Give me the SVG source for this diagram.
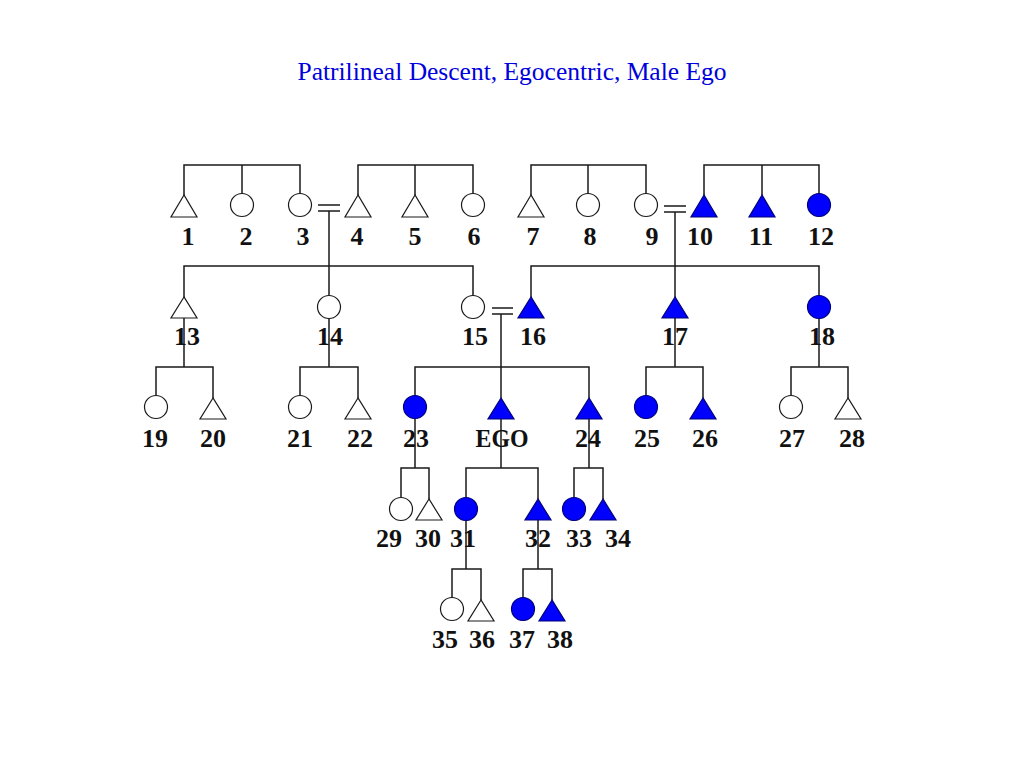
<svg xmlns="http://www.w3.org/2000/svg" width="1024" height="768" viewBox="0 0 1024 768">
<style>
.ln{stroke:#1a1a1a;stroke-width:1.5;fill:none}
.o{fill:#fff;stroke:#1a1a1a;stroke-width:1.2}
.f{fill:#0000ff;stroke:#00007a;stroke-width:1.2}
.lb{font-family:"Liberation Serif","Times New Roman",serif;font-weight:bold;font-size:26px;fill:#111;text-anchor:middle}
.title{font-family:"Liberation Serif","Times New Roman",serif;font-size:25.5px;fill:#0000dd;text-anchor:middle}
</style>
<rect width="1024" height="768" fill="#fff"/>
<text class="title" x="512" y="80">Patrilineal Descent, Egocentric, Male Ego</text>
<g id="connectors" class="ln">
<path d="M184 195V165H300V193.5M242 165V193.5"/>
<path d="M358 195V165H473V193.5M415 165V195"/>
<path d="M531 195V165H646V193.5M588 165V193.5"/>
<path d="M704 195V165H819V193.5M762 165V195"/>
<path d="M318 205H340M318 211H340M329 211V295.5"/>
<path d="M664 206H686M664 212H686M675 212V297"/>
<path d="M184 297V266H473V295.5"/>
<path d="M531 297V266H819V295.5"/>
<path d="M492 308H513M492 314H513M501 314V398"/>
<path d="M184 318V367M156 395.5V367H213V398"/>
<path d="M329 318.5V367M300 395.5V367H358V398"/>
<path d="M415 395.5V367H589V398"/>
<path d="M675 318V367M646 395.5V367H703V398"/>
<path d="M819 318.5V367M791 395.5V367H848V398"/>
<path d="M415 418.5V468M401 497.5V468H429V499"/>
<path d="M501 419V468M466 497.5V468H538V499"/>
<path d="M589 419V468M574 497.5V468H603V499"/>
<path d="M466 520.5V569M452 597.5V569H481V600"/>
<path d="M538 520V569M523 597.5V569H552V600"/>
</g>
<g id="n1"><polygon class="o" points="184,195 171,217 197,217"/><text class="lb" x="188" y="245">1</text></g>
<g id="n2"><circle class="o" cx="242" cy="205" r="11.5"/><text class="lb" x="246" y="245">2</text></g>
<g id="n3"><circle class="o" cx="300" cy="205" r="11.5"/><text class="lb" x="303" y="245">3</text></g>
<g id="n4"><polygon class="o" points="358,195 345,217 371,217"/><text class="lb" x="357" y="245">4</text></g>
<g id="n5"><polygon class="o" points="415,195 402,217 428,217"/><text class="lb" x="415" y="245">5</text></g>
<g id="n6"><circle class="o" cx="473" cy="205" r="11.5"/><text class="lb" x="474" y="245">6</text></g>
<g id="n7"><polygon class="o" points="531,195 518,217 544,217"/><text class="lb" x="533" y="245">7</text></g>
<g id="n8"><circle class="o" cx="588" cy="205" r="11.5"/><text class="lb" x="590" y="245">8</text></g>
<g id="n9"><circle class="o" cx="646" cy="205" r="11.5"/><text class="lb" x="652" y="245">9</text></g>
<g id="n10"><polygon class="f" points="704,195 691,217 717,217"/><text class="lb" x="700" y="245">10</text></g>
<g id="n11"><polygon class="f" points="762,195 749,217 775,217"/><text class="lb" x="761" y="245">11</text></g>
<g id="n12"><circle class="f" cx="819" cy="205" r="11.5"/><text class="lb" x="821" y="245">12</text></g>
<g id="n13"><polygon class="o" points="184,297 171,318 197,318"/><text class="lb" x="187" y="345">13</text></g>
<g id="n14"><circle class="o" cx="329" cy="307" r="11.5"/><text class="lb" x="330" y="345">14</text></g>
<g id="n15"><circle class="o" cx="473" cy="307" r="11.5"/><text class="lb" x="475" y="345">15</text></g>
<g id="n16"><polygon class="f" points="531,297 518,318 544,318"/><text class="lb" x="533" y="345">16</text></g>
<g id="n17"><polygon class="f" points="675,297 662,318 688,318"/><text class="lb" x="675" y="345">17</text></g>
<g id="n18"><circle class="f" cx="819" cy="307" r="11.5"/><text class="lb" x="822" y="345">18</text></g>
<g id="n19"><circle class="o" cx="156" cy="407" r="11.5"/><text class="lb" x="155" y="447">19</text></g>
<g id="n20"><polygon class="o" points="213,398 200,419 226,419"/><text class="lb" x="213" y="447">20</text></g>
<g id="n21"><circle class="o" cx="300" cy="407" r="11.5"/><text class="lb" x="300" y="447">21</text></g>
<g id="n22"><polygon class="o" points="358,398 345,419 371,419"/><text class="lb" x="360" y="447">22</text></g>
<g id="n23"><circle class="f" cx="415" cy="407" r="11.5"/><text class="lb" x="416" y="447">23</text></g>
<g id="ego"><polygon class="f" points="501,398 488,419 514,419"/><text class="lb" x="502" y="447" textLength="53" lengthAdjust="spacingAndGlyphs">EGO</text></g>
<g id="n24"><polygon class="f" points="589,398 576,419 602,419"/><text class="lb" x="588" y="447">24</text></g>
<g id="n25"><circle class="f" cx="646" cy="407" r="11.5"/><text class="lb" x="647" y="447">25</text></g>
<g id="n26"><polygon class="f" points="703,398 690,419 716,419"/><text class="lb" x="705" y="447">26</text></g>
<g id="n27"><circle class="o" cx="791" cy="407" r="11.5"/><text class="lb" x="792" y="447">27</text></g>
<g id="n28"><polygon class="o" points="848,398 835,419 861,419"/><text class="lb" x="852" y="447">28</text></g>
<g id="n29"><circle class="o" cx="401" cy="509" r="11.5"/><text class="lb" x="389" y="547">29</text></g>
<g id="n30"><polygon class="o" points="429,499 416,520 442,520"/><text class="lb" x="428" y="547">30</text></g>
<g id="n31"><circle class="f" cx="466" cy="509" r="11.5"/><text class="lb" x="463" y="547">31</text></g>
<g id="n32"><polygon class="f" points="538,499 525,520 551,520"/><text class="lb" x="538" y="547">32</text></g>
<g id="n33"><circle class="f" cx="574" cy="509" r="11.5"/><text class="lb" x="579" y="547">33</text></g>
<g id="n34"><polygon class="f" points="603,499 590,520 616,520"/><text class="lb" x="618" y="547">34</text></g>
<g id="n35"><circle class="o" cx="452" cy="609" r="11.5"/><text class="lb" x="445" y="648">35</text></g>
<g id="n36"><polygon class="o" points="481,600 468,621 494,621"/><text class="lb" x="482" y="648">36</text></g>
<g id="n37"><circle class="f" cx="523" cy="609" r="11.5"/><text class="lb" x="522" y="648">37</text></g>
<g id="n38"><polygon class="f" points="552,600 539,621 565,621"/><text class="lb" x="560" y="648">38</text></g>
</svg>
